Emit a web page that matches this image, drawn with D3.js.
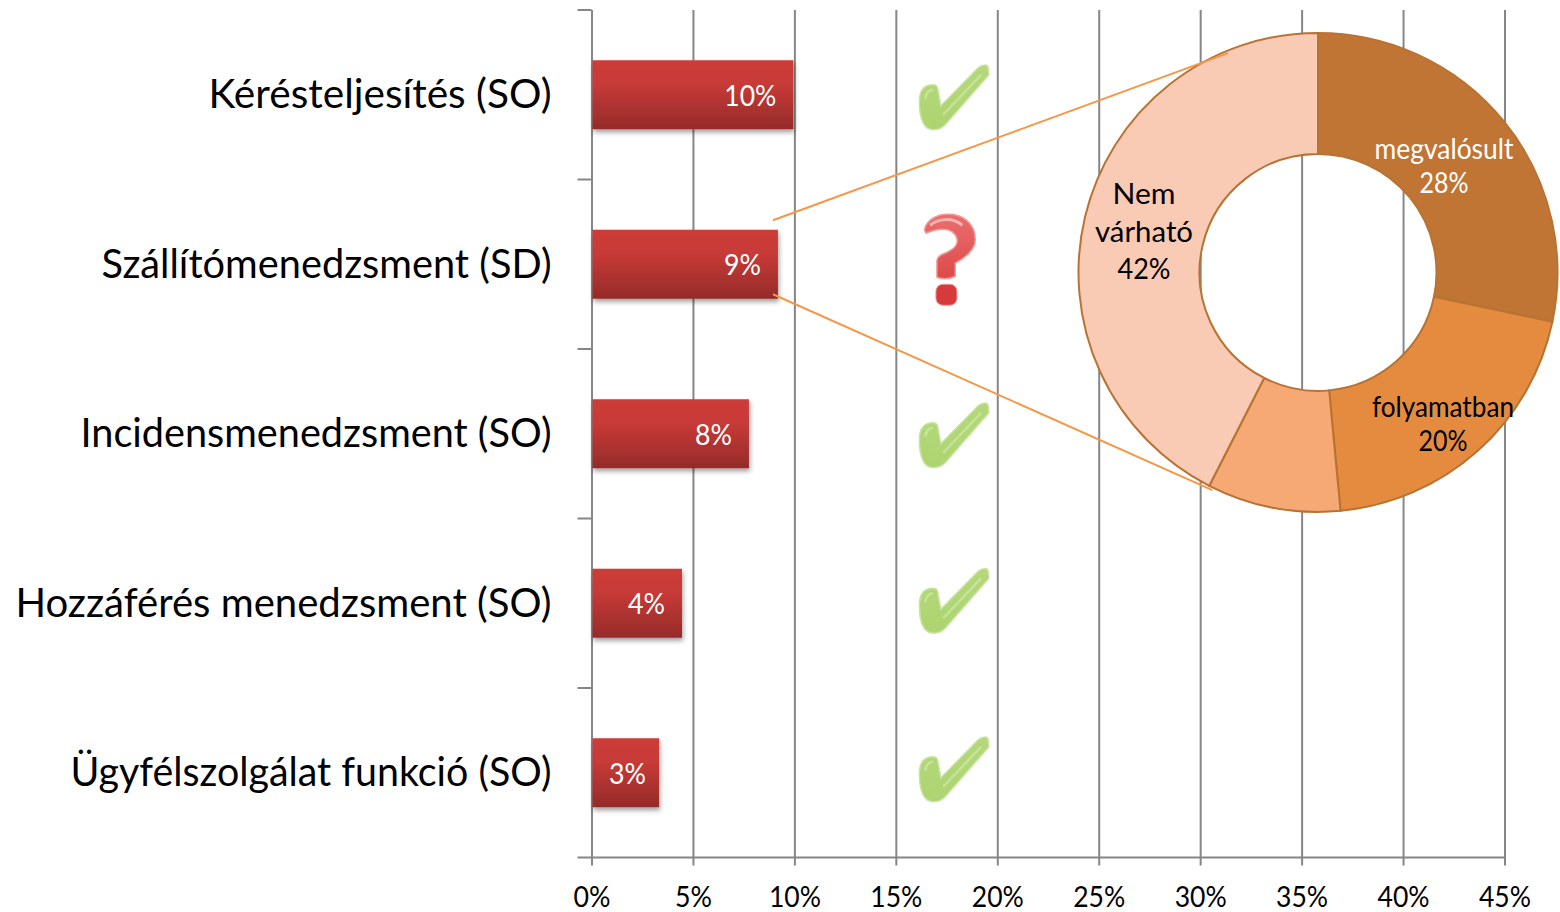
<!DOCTYPE html>
<html>
<head>
<meta charset="utf-8">
<script src="https://d3js.org/d3.v7.min.js"></script>
<style>
    html, body { margin: 0; padding: 0; background: #fff; }
    text { font-family: Lato, sans-serif; }
</style>
</head>
<body>
<div id="canvas"></div>
<script>
// bar data
const categories = [
    'Kérésteljesítés (SO)',
    'Szállítómenedzsment (SD)',
    'Incidensmenedzsment (SO)',
    'Hozzáférés menedzsment (SO)',
    'Ügyfélszolgálat funkció (SO)'
];
const barValues = [9.95, 9.19, 7.76, 4.46, 3.33];
const barLabels = ['10%', '9%', '8%', '4%', '3%'];
const status = ['ok', 'question', 'ok', 'ok', 'ok'];
const xTicks = [0, 5, 10, 15, 20, 25, 30, 35, 40, 45];

// donut data
const sliceValues = [28.3, 20.2, 9, 42.5];
const sliceColors = ['#c17534', '#e58b40', '#f6a975', '#f9cab4'];

const dims = { width: 1560, height: 912 };
const plot = { left: 591.5, right: 1504.5, top: 10, bottom: 857.5 };
const donut = { cx: 1318, cy: 272.4, outer: 239.5, inner: 118.5 };

// the reference font runs narrower than Lato, so text is squeezed to its width
const categoryWidths = [343, 450, 471, 536, 481];
const pctWidth = s => (s.length - 1) * 15 + 22;

const svg = d3.select('#canvas')
    .append('svg')
    .attr('width', dims.width)
    .attr('height', dims.height)
    .style('display', 'block');

const defs = svg.append('defs');

const barGrad = defs.append('linearGradient')
    .attr('id', 'barGrad')
    .attr('x1', 0).attr('x2', 0).attr('y1', 0).attr('y2', 1);
barGrad.append('stop').attr('offset', '0%').attr('stop-color', '#cd3c39');
barGrad.append('stop').attr('offset', '35%').attr('stop-color', '#c73a37');
barGrad.append('stop').attr('offset', '100%').attr('stop-color', '#952b29');

const checkGrad = defs.append('linearGradient')
    .attr('id', 'checkGrad')
    .attr('x1', 0).attr('x2', 0).attr('y1', 0).attr('y2', 1);
checkGrad.append('stop').attr('offset', '0%').attr('stop-color', '#b4d87a');
checkGrad.append('stop').attr('offset', '100%').attr('stop-color', '#aed471');

const questionGrad = defs.append('linearGradient')
    .attr('id', 'questionGrad')
    .attr('x1', 0).attr('x2', 0).attr('y1', 0).attr('y2', 1);
questionGrad.append('stop').attr('offset', '0%').attr('stop-color', '#ea6f6e');
questionGrad.append('stop').attr('offset', '100%').attr('stop-color', '#dc4a49');

const shadow = defs.append('filter')
    .attr('id', 'barShadow')
    .attr('x', '-10%').attr('y', '-10%').attr('width', '125%').attr('height', '130%');
shadow.append('feDropShadow')
    .attr('dx', 1).attr('dy', 3).attr('stdDeviation', 2.5)
    .attr('flood-color', '#000').attr('flood-opacity', 0.38);

// scales
const x = d3.scaleLinear()
    .domain([0, 45])
    .range([plot.left, plot.right]);

const y = d3.scaleBand()
    .domain(categories)
    .range([plot.top, plot.bottom]);

// gridlines and ticks
const xAxis = d3.axisBottom(x)
    .tickValues(xTicks)
    .tickSize(plot.bottom - plot.top + 8)
    .tickPadding(14)
    .tickFormat(d => d + '%');

const xAxisGroup = svg.append('g')
    .attr('transform', `translate(0,${plot.top})`)
    .call(xAxis);
xAxisGroup.select('.domain').remove();
xAxisGroup.selectAll('line').attr('stroke', '#868686').attr('stroke-width', 2);
xAxisGroup.selectAll('text')
    .attr('fill', '#000')
    .attr('y', plot.bottom - plot.top + 29)
    .style('font-size', '29px')
    .attr('textLength', d => pctWidth(d + '%'))
    .attr('lengthAdjust', 'spacingAndGlyphs');

// left axis: ticks sit between the categories
const bandEdges = d3.range(categories.length + 1).map(i => plot.top + i * y.step());
svg.append('g').selectAll('line')
    .data(bandEdges)
    .enter()
    .append('line')
    .attr('x1', plot.left - 14)
    .attr('x2', plot.left)
    .attr('y1', d => d)
    .attr('y2', d => d)
    .attr('stroke', '#868686')
    .attr('stroke-width', 2);
svg.append('line')
    .attr('x1', plot.left).attr('x2', plot.right)
    .attr('y1', plot.bottom).attr('y2', plot.bottom)
    .attr('stroke', '#868686').attr('stroke-width', 2);

// category labels
svg.append('g').selectAll('text')
    .data(categories)
    .enter()
    .append('text')
    .attr('x', plot.left - 40)
    .attr('y', d => y(d) + y.bandwidth() / 2 - 1)
    .attr('dy', '0.35em')
    .attr('text-anchor', 'end')
    .attr('fill', '#000')
    .style('font-size', '41px')
    .attr('textLength', (d, i) => categoryWidths[i])
    .attr('lengthAdjust', 'spacingAndGlyphs')
    .text(d => d);

// bars
const barHeight = 69;
svg.append('g').selectAll('rect')
    .data(categories)
    .enter()
    .append('rect')
    .attr('x', plot.left + 1)
    .attr('y', d => y(d) + y.bandwidth() / 2 - barHeight / 2)
    .attr('width', (d, i) => x(barValues[i]) - plot.left - 1)
    .attr('height', barHeight)
    .attr('fill', 'url(#barGrad)')
    .attr('filter', 'url(#barShadow)');

// bar labels
svg.append('g').selectAll('text')
    .data(categories)
    .enter()
    .append('text')
    .attr('x', (d, i) => i === 4 ? x(barValues[i]) - 13 : x(barValues[i]) - 17)
    .attr('y', d => y(d) + y.bandwidth() / 2 + 1)
    .attr('dy', '0.35em')
    .attr('text-anchor', 'end')
    .attr('fill', '#fff')
    .style('font-size', '29px')
    .attr('textLength', (d, i) => pctWidth(barLabels[i]))
    .attr('lengthAdjust', 'spacingAndGlyphs')
    .text((d, i) => barLabels[i]);

// status icons
const checkPath = 'M0.3,34 C1,25 6,20 14,20 C18,20 19,23 19,27 L21.7,41 L59,3 C63,0 68,-1 69,3 L69.7,10 L26,60 C20,66 10,67 5,60 C1,54 0,42 0.3,34 Z';
const checkShine = 'M6,34 C7,28 10,25 14,25 M24,50 L62,10';
const questionPath = 'M0.3,17 C1,10 8,3 19,1.3 C38,-1 51,10 51,26 C51,37 41,44 31,50 L31,63 C25,66 18,66 12.7,64 L12.7,47 C13,43 18,41 23,39 C29,36 33,33 33,28 C33,21 27,16 19,16 C13,16 8,17 2,20 Z';
const questionShine = 'M6,12 C14,5 28,4 38,12';

// the pictures are not quite evenly spaced in the reference
const iconShift = [1, 0, 0, -4, -5];

const icons = svg.append('g').selectAll('g')
    .data(categories)
    .enter()
    .append('g')
    .attr('transform', (d, i) => {
        const mid = y(d) + y.bandwidth() / 2;
        return status[i] === 'ok'
            ? `translate(${x(16.15)},${mid - 31 + iconShift[i]})`
            : `translate(${x(16.4)},${mid - 51})`;
    });

const checks = icons.filter((d, i) => status[i] === 'ok');
checks.append('path')
    .attr('d', checkPath)
    .attr('fill', 'url(#checkGrad)')
    .attr('stroke', '#c9e4a0')
    .attr('stroke-width', 1.5);
checks.append('path')
    .attr('d', checkShine)
    .attr('fill', 'none')
    .attr('stroke', '#cfe8a6')
    .attr('stroke-width', 2.5)
    .attr('opacity', 0.7);

const question = icons.filter((d, i) => status[i] === 'question');
question.append('path')
    .attr('d', questionPath)
    .attr('fill', 'url(#questionGrad)')
    .attr('stroke', '#f09a98')
    .attr('stroke-width', 1.5);
question.append('path')
    .attr('d', questionShine)
    .attr('fill', 'none')
    .attr('stroke', '#f6b5b3')
    .attr('stroke-width', 3);
question.append('rect')
    .attr('x', 11.7).attr('y', 71)
    .attr('width', 21).attr('height', 21)
    .attr('rx', 7)
    .attr('fill', '#d63a3a')
    .attr('stroke', '#f09a98')
    .attr('stroke-width', 1);

// donut
const pie = d3.pie().sort(null);
const arc = d3.arc().innerRadius(donut.inner).outerRadius(donut.outer);

const donutGroup = svg.append('g')
    .attr('transform', `translate(${donut.cx},${donut.cy})`);

donutGroup.selectAll('path')
    .data(pie(sliceValues))
    .enter()
    .append('path')
    .attr('d', arc)
    .attr('fill', (d, i) => sliceColors[i])
    .attr('stroke', '#b87333')
    .attr('stroke-width', 2);

// donut labels, one text per line so each can be fitted
const donutLabels = [
    { lines: ['megvalósult', '28%'], widths: [139, 49], cx: 126, cy: -107, lh: 34, fill: '#fff' },
    { lines: ['folyamatban', '20%'], widths: [142, 49], cx: 125, cy: 151, lh: 34, fill: '#000' },
    { lines: ['Nem', 'várható', '42%'], widths: [63, 98, 53], cx: -174, cy: -41, lh: 37.5, fill: '#000' }
];

donutLabels.forEach(d => {
    donutGroup.append('g').selectAll('text')
        .data(d.lines)
        .enter()
        .append('text')
        .attr('x', d.cx)
        .attr('y', (l, j) => d.cy + (j - (d.lines.length - 1) / 2) * d.lh)
        .attr('dy', '0.35em')
        .attr('text-anchor', 'middle')
        .attr('fill', d.fill)
        .style('font-size', '29px')
        .attr('textLength', (l, j) => d.widths[j])
        .attr('lengthAdjust', 'spacingAndGlyphs')
        .text(l => l);
});

// zoom lines from the SD bar to the donut
const polar = (deg, r) => {
    const a = deg * Math.PI / 180;
    return [donut.cx + r * Math.sin(a), donut.cy - r * Math.cos(a)];
};
const sdMid = y(categories[1]) + y.bandwidth() / 2;
const sdEnd = x(barValues[1]) - 5;
const zoomLines = [
    [[sdEnd, sdMid - 44], polar(-22.3, 237)],
    [[sdEnd, sdMid + 30], polar(205.9, 242)]
];
svg.append('g').selectAll('line')
    .data(zoomLines)
    .enter()
    .append('line')
    .attr('x1', d => d[0][0])
    .attr('y1', d => d[0][1])
    .attr('x2', d => d[1][0])
    .attr('y2', d => d[1][1])
    .attr('stroke', '#f79646')
    .attr('stroke-width', 2);
</script>
</body>
</html>
